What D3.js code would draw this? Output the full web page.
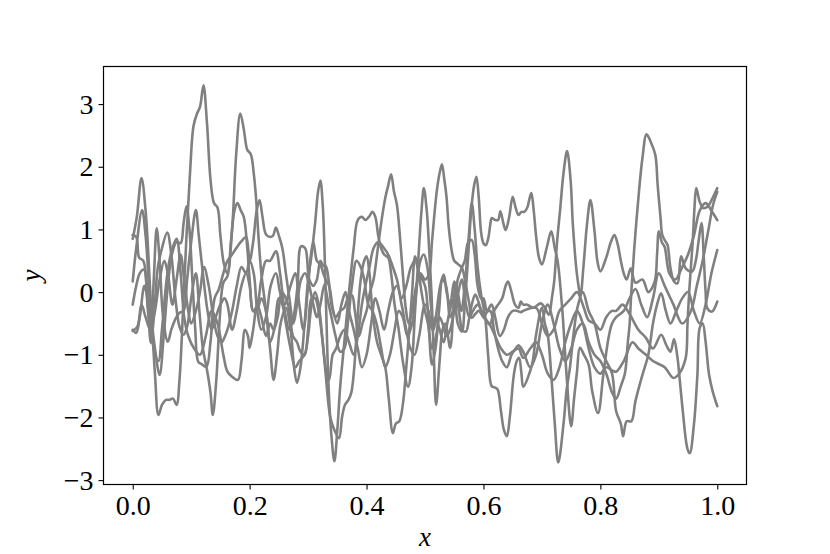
<!DOCTYPE html>
<html>
<head>
<meta charset="utf-8">
<script src="https://cdn.jsdelivr.net/npm/d3@7"></script>
<style>
  html, body { margin: 0; padding: 0; background: #fff; }
  svg text { font-family: "Liberation Serif", "DejaVu Serif", serif; fill: #000; }
</style>
</head>
<body>
<svg id="chart" width="830" height="554"></svg>
<script>
// ---- data (x, y) for each sample path ----
const series1 = [[0,0.85],[0.007,1.2],[0.015,1.82],[0.022,1.3],[0.03,0.0],[0.038,-1.3],[0.044,-1.96],[0.05,-1.8],[0.057,-1.72],[0.063,-1.72],[0.069,-1.7],[0.075,-1.8],[0.08,-1.4],[0.086,-0.3],[0.092,0.9],[0.098,1.9],[0.104,2.65],[0.11,2.85],[0.115,2.95],[0.121,3.3],[0.127,2.7],[0.133,1.8],[0.139,1.42],[0.145,1.35],[0.15,0.9],[0.156,0.45],[0.162,0.3],
 [0.17,1.0],[0.177,2.2],[0.184,2.85],[0.19,2.6],[0.196,2.27],[0.202,2.2],[0.207,1.9],[0.211,1.5],[0.215,0.9],[0.22,0.3],[0.228,-0.3],[0.235,-0.9],[0.241,-1.4],[0.247,-1.0],[0.253,-0.5],[0.262,-0.25],[0.27,-0.6],[0.276,-1.2],[0.281,-1.45],[0.287,-1.2],[0.294,-0.5],[0.3,0.2],[0.306,0.6],[0.312,1.1],[0.317,1.6],[0.321,1.78],[0.325,1.4],[0.328,0.7],[0.331,-0.3],[0.335,-1.5],[0.34,-2.3],[0.345,-2.7],
 [0.35,-2.2],[0.355,-1.5],[0.362,-0.8],[0.37,0.0],[0.378,0.7],[0.385,1.15],[0.392,1.2],[0.398,1.15],[0.404,1.2],[0.41,1.28],[0.415,1.2],[0.42,0.9],[0.425,0.7],[0.43,0.6],[0.437,0.55],[0.442,0.3],[0.448,-0.2],[0.455,-0.6],[0.462,-1.1],[0.471,-1.51],[0.477,-1.2],[0.483,-0.3],[0.489,0.6],[0.494,1.3],[0.498,1.66],[0.503,1.3],[0.507,0.7],[0.511,0.0],[0.515,-1.0],[0.519,-1.8],
 [0.525,-1.1],[0.53,-0.6],[0.535,-0.5],[0.543,-0.89],[0.549,-0.2],[0.552,0.1],[0.558,-0.3],[0.564,-0.6],[0.57,-0.63],[0.575,-0.45],[0.58,-0.2],[0.586,-0.04],[0.593,-0.2],[0.6,-0.4],[0.607,-0.3],[0.614,-0.2],[0.62,-0.4],[0.628,-0.7],[0.635,-0.6],[0.642,-0.4],[0.65,-0.3],[0.658,-0.3],[0.664,-0.32],[0.668,-0.3],
 [0.69,-0.25],[0.7,-0.5],[0.71,-0.7],[0.72,-0.6],[0.73,-0.3],[0.74,-0.2],[0.75,-0.1],[0.76,0.0],[0.77,-0.2],[0.78,-0.45],[0.79,-0.5],[0.8,-0.6],[0.81,-0.4],[0.82,-0.3],[0.827,-0.3],
 [0.838,-0.2],[0.85,-0.35],[0.865,-0.6],[0.878,-0.73],[0.89,-0.9],[0.904,-0.68],[0.913,-0.85],[0.92,-0.95],[0.926,-0.75],[0.932,-1.05],[0.935,-1.32],[0.9405,-1.85],[0.949,-2.5],[0.953,-2.57],[0.96,-2.12],[0.966,-1.32],[0.97,-0.57],[0.975,-0.5],[0.98,-0.79],[0.986,-1.32],[0.992,-1.58],[1.0,-1.82]];

const series2 = [[0,0.91],[0.006,0.88],[0.011,0.55],[0.018,0.5],[0.024,0.1],[0.031,-0.81],[0.037,-0.3],[0.043,0.4],[0.05,0.7],[0.059,0.95],[0.066,0.6],[0.073,-0.1],[0.08,-0.55],[0.087,-0.68],[0.093,-0.55],[0.1,-0.1],[0.108,0.3],[0.114,-0.3],[0.12,-0.9],[0.127,-1.24],[0.133,-1.6],[0.137,-1.96],[0.143,-1.4],[0.149,-0.4],[0.155,0.15],[0.162,0.25],
 [0.168,0.8],[0.174,1.3],[0.179,1.42],[0.185,1.3],[0.19,1.2],[0.196,0.7],[0.2,0.2],[0.206,-0.3],[0.213,-0.2],[0.22,0.2],[0.228,0.5],[0.235,0.5],[0.245,0.65],[0.252,0.3],[0.26,-0.3],[0.268,-0.6],[0.275,-0.4],[0.282,0.1],[0.288,0.73],[0.295,0.7],[0.302,0.2],[0.309,0.1],[0.315,0.2],[0.321,0.5],[0.326,0.42],[0.33,0.42],
 [0.335,0.2],[0.34,-0.2],[0.347,-0.4],[0.355,-0.3],[0.362,-0.25],[0.368,-0.1],[0.375,-0.05],[0.38,-0.3],[0.387,-0.7],[0.393,-0.5],[0.4,-0.3],[0.406,0.0],[0.412,0.2],[0.418,0.6],[0.425,1.1],[0.432,1.5],[0.437,1.7],[0.442,1.88],[0.447,1.6],[0.452,1.39],[0.457,0.9],[0.462,0.3],[0.467,-0.25],[0.472,-0.5],[0.478,-0.3],[0.485,0.1],[0.492,0.3],[0.5,0.2],
 [0.507,0.3],[0.512,0.81],[0.52,1.6],[0.525,1.9],[0.529,2.04],[0.533,1.8],[0.537,1.5],[0.54,1.1],[0.545,0.7],[0.55,0.5],[0.556,0.45],[0.563,0.39],[0.57,0.1],[0.576,-0.2],[0.58,-0.41],[0.586,-0.35],[0.592,-0.3],[0.6,-0.4],[0.611,-0.52],[0.62,-0.7],[0.63,-0.9],[0.64,-1.0],[0.65,-0.95],[0.66,-0.9],[0.668,-1.05],
 [0.68,-0.9],[0.69,-0.8],[0.7,-1.0],[0.71,-1.3],[0.72,-1.4],[0.73,-1.2],[0.74,-0.8],[0.75,-0.5],[0.76,-0.3],[0.77,-0.5],[0.78,-0.9],[0.79,-1.2],[0.8,-1.3],[0.81,-1.2],[0.82,-1.25],[0.827,-1.27],
 [0.84,-1.1],[0.855,-0.8],[0.865,-0.9],[0.878,-1.0],[0.89,-1.1],[0.91,-1.2],[0.925,-1.37],[0.935,-1.3],[0.946,-1.05],[0.949,-0.52],[0.952,0.01],[0.958,0.81],[0.961,1.34],[0.964,1.66],[0.97,1.44],[0.976,1.34],[0.984,1.37],[0.992,1.5],[1.0,1.66]];

const series3 = [[0,0.17],[0.006,0.7],[0.016,1.31],[0.022,0.9],[0.03,-0.2],[0.038,-0.9],[0.046,-1.32],[0.053,-0.7],[0.06,0.1],[0.067,0.6],[0.075,0.8],[0.082,0.78],[0.087,1.1],[0.092,1.37],[0.097,1.0],[0.102,0.2],[0.107,-0.6],[0.112,-1.11],[0.118,-1.15],[0.126,-1.19],[0.133,-0.8],[0.14,-0.1],[0.147,0.04],[0.155,0.3],[0.162,0.5],
 [0.17,0.6],[0.177,0.7],[0.185,0.8],[0.194,0.88],[0.2,0.5],[0.206,0.8],[0.212,1.3],[0.217,1.47],[0.222,1.2],[0.228,0.92],[0.235,0.88],[0.24,0.9],[0.245,1.03],[0.25,0.9],[0.256,0.7],[0.262,0.3],[0.268,-0.1],[0.275,-0.5],[0.281,-0.2],[0.288,0.2],[0.295,0.3],[0.302,0.1],[0.309,-0.2],[0.315,-0.4],[0.321,-0.2],[0.328,0.12],
 [0.333,-0.1],[0.34,-0.4],[0.347,-0.7],[0.355,-0.95],[0.362,-0.9],[0.368,-0.5],[0.375,0.1],[0.383,0.5],[0.39,0.4],[0.396,0.2],[0.403,-0.2],[0.41,-0.3],[0.417,-0.5],[0.425,-0.89],[0.432,-1.2],[0.44,-1.0],[0.448,-0.6],[0.455,-0.3],[0.462,-0.4],[0.47,-0.7],[0.478,-0.5],[0.485,0.0],[0.492,0.5],
 [0.498,0.6],[0.504,0.4],[0.51,-0.2],[0.515,-0.6],[0.52,-0.3],[0.526,0.1],[0.532,0.28],[0.537,0.0],[0.543,-0.2],[0.55,0.17],[0.556,0.0],[0.562,-0.3],[0.568,0.1],[0.575,0.9],[0.58,1.42],[0.585,1.0],[0.59,0.4],[0.596,-0.04],[0.603,-0.4],[0.608,-1.0],[0.614,-1.5],[0.619,-1.52],[0.624,-1.55],[0.63,-1.9],[0.635,-2.2],[0.64,-2.3],[0.645,-2.0],[0.652,-1.32],[0.657,-1.1],[0.661,-1.05],[0.665,-1.3],[0.668,-1.51],
 [0.683,-1.16],[0.69,-0.68],[0.7,-0.25],[0.705,-0.5],[0.71,-0.68],[0.716,-1.32],[0.722,-2.1],[0.728,-2.72],[0.737,-2.1],[0.742,-1.58],[0.748,-1.2],[0.755,-0.6],[0.762,-0.2],[0.77,0.0],[0.78,-0.3],[0.79,-0.5],[0.8,-0.89],[0.81,-1.1],[0.82,-1.3],[0.827,-1.9],[0.835,-2.1],[0.839,-2.3],
 [0.845,-2.06],[0.853,-2.06],[0.86,-1.74],[0.872,-1.32],[0.882,-1.0],[0.89,-0.5],[0.897,-0.2],[0.904,-0.02],[0.912,-0.3],[0.92,-0.5],[0.93,-0.3],[0.94,-0.1],[0.95,0.0],[0.96,-0.3],[0.97,-0.5],[0.98,-0.2],[0.99,0.3],[1.0,0.67]];

const series4 = [[0,-0.2],[0.006,0.1],[0.012,0.3],[0.019,0.36],[0.026,-0.3],[0.031,-0.6],[0.036,0.2],[0.041,1.02],[0.046,0.5],[0.052,-0.4],[0.06,-0.79],[0.066,-0.6],[0.072,-0.45],[0.08,-0.33],[0.087,-0.3],[0.093,0.2],[0.1,0.8],[0.108,1.31],[0.113,0.9],[0.12,0.3],[0.128,-0.3],[0.135,-0.6],[0.142,-0.4],[0.15,-0.2],[0.157,-0.1],[0.162,-0.2],
 [0.17,-0.6],[0.178,-0.3],[0.186,0.1],[0.194,0.3],[0.2,0.1],[0.206,-0.3],[0.212,-0.3],[0.22,-0.1],[0.228,-0.3],[0.235,-0.8],[0.242,-0.6],[0.25,-0.1],[0.256,-0.2],[0.262,-0.5],[0.27,-0.9],[0.278,-1.2],[0.285,-1.1],[0.294,-1.0],[0.3,-0.7],[0.306,-0.2],[0.312,0.0],[0.318,-0.2],[0.325,-0.8],[0.33,-1.3],[0.338,-2.0],[0.345,-2.2],
 [0.353,-2.33],[0.358,-2.0],[0.363,-1.8],[0.369,-1.72],[0.374,-1.6],[0.379,-1.2],[0.384,-0.5],[0.39,0.2],[0.396,0.5],[0.4,0.57],[0.405,0.3],[0.41,-0.3],[0.418,-0.8],[0.425,-1.0],[0.432,-1.2],[0.438,-1.7],[0.445,-2.25],[0.45,-2.1],[0.456,-2.06],[0.462,-1.8],[0.468,-1.2],[0.474,-0.5],[0.478,0.0],[0.483,0.57],[0.488,0.4],[0.494,0.0],[0.5,-0.3],
 [0.505,-0.5],[0.512,-0.9],[0.519,-0.7],[0.525,-0.4],[0.53,-0.5],[0.537,-0.7],[0.543,-0.6],[0.55,-0.3],[0.557,0.0],[0.563,0.2],[0.57,-0.2],[0.576,-0.4],[0.582,-0.3],[0.59,-0.2],[0.597,-0.3],[0.605,-0.45],[0.611,-0.52],[0.618,-0.3],[0.625,-0.2],[0.632,-0.1],[0.638,0.1],[0.642,0.17],[0.648,0.0],[0.654,-0.2],[0.66,-0.25],[0.664,-0.15],[0.668,-0.2],
 [0.675,-0.2],[0.685,-0.25],[0.698,-0.18],[0.705,-0.25],[0.712,-0.36],[0.717,-0.1],[0.721,0.17],[0.726,0.81],[0.731,1.3],[0.737,1.9],[0.743,2.25],[0.749,1.8],[0.753,1.07],[0.76,0.28],[0.766,-0.04],[0.771,0.4],[0.777,1.07],[0.783,1.47],[0.79,0.97],[0.795,0.49],[0.8,0.33],[0.81,0.55],[0.818,0.8],[0.824,0.91],[0.83,0.75],[0.835,0.5],
 [0.84,0.3],[0.845,0.2],[0.852,0.38],[0.86,0.15],[0.872,0.2],[0.882,0.0],[0.893,0.17],[0.897,0.6],[0.9,0.97],[0.905,0.8],[0.91,0.72],[0.918,0.3],[0.928,0.2],[0.94,0.4],[0.95,0.6],[0.96,0.9],[0.97,1.3],[0.98,1.42],[0.99,1.3],[1.0,1.15]];

const series5 = [[0,-0.6],[0.006,-0.65],[0.012,-0.4],[0.02,0.1],[0.028,-0.3],[0.036,-0.9],[0.044,-1.1],[0.05,-0.6],[0.058,0.2],[0.065,0.6],[0.075,0.85],[0.082,0.3],[0.088,-0.4],[0.095,-0.7],[0.105,-0.9],[0.115,-1.0],[0.125,-0.7],[0.135,-0.3],[0.145,-0.5],[0.155,-1.0],[0.162,-1.27],
 [0.17,-1.35],[0.18,-1.4],[0.186,-1.1],[0.192,-0.6],[0.197,-0.7],[0.2,-0.89],[0.206,-0.6],[0.213,-0.2],[0.22,-0.4],[0.228,-0.7],[0.235,-0.5],[0.241,-0.6],[0.248,-0.4],[0.255,0.0],[0.262,-0.1],[0.268,-0.3],[0.274,-0.7],[0.281,-0.8],[0.287,-0.95],[0.294,-1.0],[0.3,-0.6],[0.306,-0.1],[0.312,-0.1],[0.318,-0.3],
 [0.325,-0.8],[0.33,-1.2],[0.336,-1.4],[0.342,-1.0],[0.348,-0.9],[0.355,-0.7],[0.362,-0.6],[0.37,-0.8],[0.378,-1.0],[0.385,-0.7],[0.392,-0.2],[0.398,0.1],[0.405,0.4],[0.412,0.7],[0.42,0.8],[0.43,0.7],[0.437,0.6],[0.445,0.4],[0.452,0.2],[0.46,-0.1],[0.468,0.1],[0.476,0.4],[0.483,0.5],[0.49,0.3],[0.5,0.1],
 [0.505,-0.3],[0.512,-1.16],[0.518,-0.9],[0.524,-0.3],[0.53,0.2],[0.536,0.1],[0.543,-0.4],[0.55,-0.2],[0.556,0.2],[0.563,0.39],[0.568,0.5],[0.574,0.8],[0.58,0.83],[0.585,0.6],[0.59,0.1],[0.596,-0.1],[0.6,-0.1],[0.606,-0.3],[0.612,-0.3],[0.618,-0.6],[0.625,-0.9],[0.632,-1.1],[0.64,-1.2],[0.648,-1.0],[0.655,-0.9],[0.66,-0.85],[0.668,-0.95],
 [0.68,-1.2],[0.69,-1.0],[0.7,-0.5],[0.71,-0.2],[0.72,-0.5],[0.73,-0.9],[0.74,-1.1],[0.75,-0.9],[0.76,-0.6],[0.77,-0.5],[0.78,-0.8],[0.79,-1.0],[0.8,-1.1],[0.81,-1.3],[0.82,-1.6],[0.827,-1.7],
 [0.835,-1.5],[0.842,-1.3],[0.847,-0.8],[0.85,-0.52],[0.853,0.01],[0.858,0.7],[0.866,1.6],[0.872,2.14],[0.879,2.52],[0.886,2.4],[0.894,2.19],[0.898,1.71],[0.903,1.18],[0.906,0.91],[0.912,0.8],[0.915,0.75],[0.92,0.38],[0.926,0.17],[0.932,0.14],[0.938,0.57],[0.946,0.38],[0.957,0.33],[0.963,0.49],[0.968,0.81],[0.973,1.1],[0.977,0.54],[0.98,0.01],[0.983,-0.26],[0.991,-0.31],[1.0,-0.15]];

const series6 = [[0,-0.62],[0.008,-0.55],[0.015,-0.2],[0.022,-0.4],[0.03,-0.6],[0.038,-0.3],[0.046,0.2],[0.054,0.5],[0.06,0.3],[0.068,-0.2],[0.075,0.2],[0.082,0.6],[0.088,0.2],[0.095,-0.3],[0.1,-0.5],[0.108,-0.3],[0.115,0.0],[0.122,0.4],[0.13,0.1],[0.138,-0.4],[0.145,-0.7],[0.152,-0.8],[0.158,-0.7],[0.162,-0.6],
 [0.17,-0.3],[0.178,0.1],[0.186,0.4],[0.194,0.3],[0.2,0.5],[0.207,0.3],[0.213,-0.3],[0.22,-0.6],[0.228,-0.4],[0.236,0.1],[0.245,0.3],[0.252,0.0],[0.26,-0.2],[0.27,0.1],[0.278,0.3],[0.285,-0.2],[0.292,-0.6],[0.3,0.1],[0.305,0.6],[0.309,0.8],[0.315,0.5],[0.321,0.44],[0.326,0.3],
 [0.33,0.2],[0.336,0.1],[0.343,-0.3],[0.35,-0.5],[0.357,-0.2],[0.364,0.0],[0.37,-0.3],[0.378,-0.6],[0.385,-0.9],[0.392,-1.2],[0.4,-1.0],[0.408,-0.5],[0.415,-0.1],[0.422,-0.3],[0.43,-0.6],[0.437,-0.3],[0.445,0.0],[0.452,0.1],[0.46,-0.2],[0.468,-0.6],[0.475,-0.9],[0.482,-1.0],[0.49,-0.7],[0.5,-0.2],
 [0.506,-0.3],[0.512,-0.6],[0.518,-0.4],[0.525,-0.6],[0.532,-0.8],[0.538,-0.5],[0.545,-0.2],[0.55,-0.1],[0.556,-0.5],[0.563,-0.63],[0.568,-0.2],[0.574,0.6],[0.579,1.3],[0.584,1.7],[0.588,1.84],[0.592,1.5],[0.596,0.95],[0.6,0.78],[0.604,0.75],[0.608,0.85],[0.612,1.1],[0.614,1.18],[0.62,1.15],[0.625,1.15],[0.629,1.29],[0.634,1.1],[0.638,0.99],[0.644,1.2],[0.65,1.52],[0.655,1.35],[0.66,1.23],[0.665,1.28],[0.67,1.28],[0.675,1.35],[0.679,1.5],[0.682,1.58],[0.686,1.3],[0.69,0.9],[0.695,0.55],[0.7,0.44],
 [0.708,0.7],[0.716,0.97],[0.722,0.7],[0.727,0.49],[0.735,-0.3],[0.742,-1.3],[0.75,-2.14],[0.755,-1.7],[0.76,-1.27],[0.765,-0.89],[0.772,-1.0],[0.78,-1.16],[0.786,-1.58],[0.796,-1.93],[0.805,-1.32],[0.814,-0.73],[0.82,-0.5],[0.827,-0.4],
 [0.84,-0.3],[0.85,-0.1],[0.86,0.05],[0.87,-0.2],[0.88,-0.4],[0.89,-0.1],[0.9,0.3],[0.91,0.1],[0.925,-0.2],[0.94,-0.5],[0.955,-0.3],[0.965,0.1],[0.975,0.5],[0.985,1.0],[0.993,1.4],[1.0,1.6]];

const allSeries = [series1, series2, series3, series4, series5, series6];
const xTicks = [0.0, 0.2, 0.4, 0.6, 0.8, 1.0];
const yTicks = [-3, -2, -1, 0, 1, 2, 3];
const xDomain = [-0.05, 1.05];
const yDomain = [-3.07, 3.6];

// ---- layout ----
const svg = d3.select("#chart");
const L = 103.5, R = 746.5, T = 66.5, B = 484.5;
const x = d3.scaleLinear().domain(xDomain).range([L, R]);
const y = d3.scaleLinear().domain(yDomain).range([B, T]);

const line = d3.line()
  .x(d => x(d[0]))
  .y(d => y(d[1]))
  .curve(d3.curveCatmullRom.alpha(0.5));

svg.append("clipPath").attr("id", "clip")
  .append("rect").attr("x", L).attr("y", T).attr("width", R - L).attr("height", B - T);

svg.append("g").attr("clip-path", "url(#clip)")
  .selectAll("path").data(allSeries).join("path")
  .attr("d", line)
  .attr("fill", "none")
  .attr("stroke", "#808080")
  .attr("stroke-width", 2.6)
  .attr("stroke-linejoin", "round")
  .attr("stroke-linecap", "round");

// axes
const fmtX = d3.format(".1f");
const xAxis = svg.append("g").attr("transform", `translate(0,${B})`)
  .call(d3.axisBottom(x).tickValues(xTicks).tickFormat(fmtX).tickSize(5).tickPadding(6).tickSizeOuter(0));
const yAxis = svg.append("g").attr("transform", `translate(${L},0)`)
  .call(d3.axisLeft(y).tickValues(yTicks).tickFormat(d3.format("d")).tickSize(5).tickPadding(5).tickSizeOuter(0));
[xAxis, yAxis].forEach(g => {
  g.select(".domain").remove();
  g.selectAll(".tick line").attr("stroke", "#000").attr("stroke-width", 1.1);
  g.selectAll(".tick text").attr("font-size", 28).attr("font-family", "Liberation Serif, DejaVu Serif, serif").attr("fill", "#000");
});

// frame
svg.append("rect").attr("x", L).attr("y", T).attr("width", R - L).attr("height", B - T)
  .attr("fill", "none").attr("stroke", "#000").attr("stroke-width", 1.2);

// labels
svg.append("text").attr("x", (L + R) / 2).attr("y", 546)
  .attr("text-anchor", "middle").attr("font-size", 27).attr("font-style", "italic").text("x");
svg.append("text").attr("transform", `translate(40,${(T + B) / 2}) rotate(-90)`)
  .attr("text-anchor", "middle").attr("font-size", 27).attr("font-style", "italic").text("y");
</script>
</body>
</html>
